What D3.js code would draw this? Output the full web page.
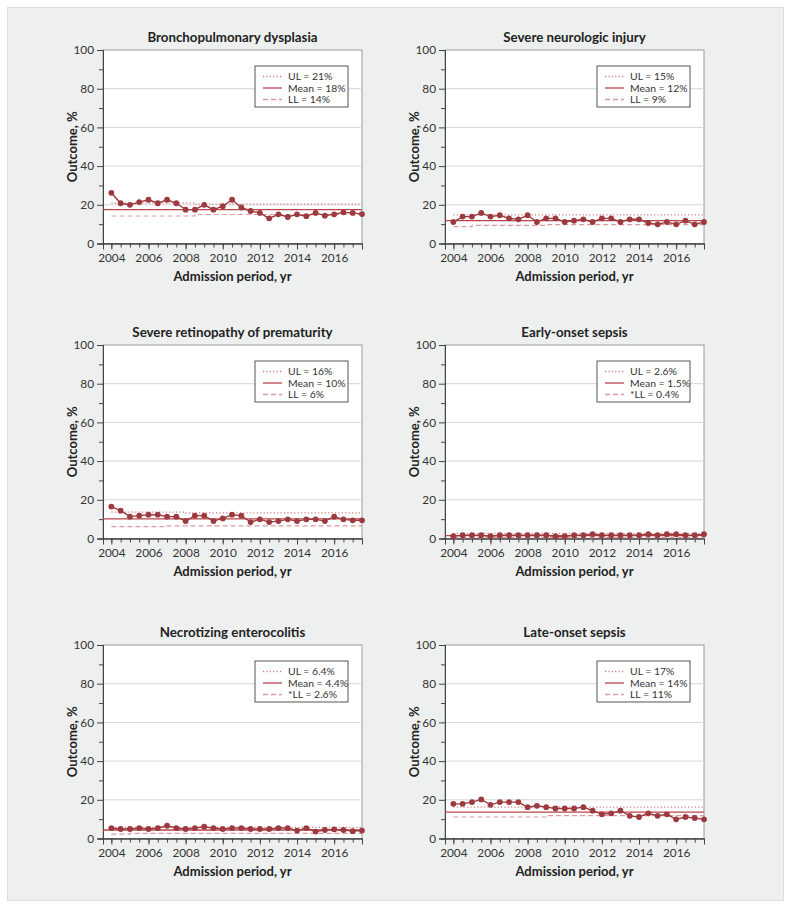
<!DOCTYPE html>
<html>
<head>
<meta charset="utf-8">
<script src="https://cdn.jsdelivr.net/npm/d3@7"></script>
<style>
  body { margin: 0; background: #fff; }
  svg { font-family: Lato, "Noto Sans", sans-serif; }
</style>
</head>
<body>
<svg id="chart" width="791" height="908"></svg>
<script>
// half-year admission periods
const periods = [2004, 2004.5, 2005, 2005.5, 2006, 2006.5, 2007, 2007.5, 2008, 2008.5,
  2009, 2009.5, 2010, 2010.5, 2011, 2011.5, 2012, 2012.5, 2013, 2013.5,
  2014, 2014.5, 2015, 2015.5, 2016, 2016.5, 2017, 2017.5];

const titles = ["Bronchopulmonary dysplasia", "Severe neurologic injury",
  "Severe retinopathy of prematurity", "Early-onset sepsis",
  "Necrotizing enterocolitis", "Late-onset sepsis"];

// outcome rates, %
const bpd = [26.2, 20.8, 20.0, 21.4, 22.6, 20.8, 22.6, 20.8, 17.5, 17.5, 20.0, 17.5, 19.3, 22.6,
  18.6, 16.8, 15.8, 13.0, 15.1, 13.7, 15.1, 14.1, 15.8, 14.4, 15.1, 16.1, 15.8, 15.2];
const sni = [11.1, 13.9, 13.9, 15.8, 13.9, 14.6, 13.0, 12.5, 14.6, 11.1, 13.0, 13.0, 11.1, 11.8,
  12.5, 11.1, 13.0, 13.0, 11.1, 12.5, 12.5, 10.6, 9.9, 11.1, 9.9, 11.8, 9.9, 11.1];
const rop = [16.5, 14.4, 11.3, 11.8, 12.3, 12.3, 11.3, 11.3, 9.0, 11.8, 11.8, 9.0, 10.4, 12.3,
  11.8, 8.5, 9.9, 8.5, 9.0, 9.9, 9.0, 9.9, 9.9, 9.0, 11.3, 9.9, 9.4, 9.4];
const eos = [1.2, 1.7, 1.7, 1.7, 1.2, 1.7, 1.7, 1.7, 1.7, 1.7, 1.7, 1.2, 1.2, 1.7,
  1.7, 2.2, 1.7, 1.7, 1.7, 1.7, 1.7, 2.2, 1.7, 2.2, 2.2, 1.7, 1.7, 2.2];
const nec = [5.4, 4.9, 4.9, 5.4, 4.9, 5.4, 6.6, 5.4, 4.9, 5.4, 6.1, 5.4, 4.9, 5.4,
  5.4, 4.9, 4.9, 4.9, 5.4, 5.4, 4.1, 5.4, 3.6, 4.4, 4.7, 4.4, 3.8, 4.1];
const los = [17.9, 17.9, 18.8, 20.2, 17.4, 18.8, 18.8, 18.8, 16.2, 16.9, 16.2, 15.5, 15.5, 15.5,
  16.2, 14.4, 12.5, 13.0, 14.4, 11.7, 11.1, 13.0, 11.7, 12.5, 9.9, 11.1, 10.6, 9.9];

// control limits as [period, value] steps, and the mean
const ulSteps = [[[2004, 20.9], [2008.5, 20.3], [2017.5, 20.3]],
  [[2004, 14.8], [2017.5, 14.8]],
  [[2004, 13.6], [2008, 13.2], [2017.5, 13.2]],
  [[2004, 2.6], [2017.5, 2.6]],
  [[2004, 5.8], [2017.5, 5.8]],
  [[2004, 16.2], [2017.5, 16.2]]];
const llSteps = [[[2004, 14.2], [2008.5, 15.0], [2017.5, 15.0]],
  [[2004, 8.7], [2005, 9.4], [2009, 9.8], [2017.5, 9.8]],
  [[2004, 6.1], [2007, 6.5], [2017.5, 6.5]],
  [[2004, 0.5], [2017.5, 0.5]],
  [[2004, 2.3], [2005, 2.7], [2017.5, 2.7]],
  [[2004, 11.1], [2009, 11.8], [2017.5, 11.8]]];
const means = [17.5, 11.8, 10.1, 1.5, 4.4, 13.6];

const legendUL = ["UL = 21%", "UL = 15%", "UL = 16%", "UL = 2.6%", "UL = 6.4%", "UL = 17%"];
const legendMean = ["Mean = 18%", "Mean = 12%", "Mean = 10%", "Mean = 1.5%", "Mean = 4.4%", "Mean = 14%"];
const legendLL = ["LL = 14%", "LL = 9%", "LL = 6%", "*LL = 0.4%", "*LL = 2.6%", "LL = 11%"];

const yTicks = [0, 20, 40, 60, 80, 100];
const yMinor = [10, 30, 50, 70, 90];
const xTicks = [2004, 2006, 2008, 2010, 2012, 2014, 2016];

const series = [bpd, sni, rop, eos, nec, los];

let colLeft = [103, 445];
let rowTop = [50, 345, 645];
let plotW = 259;
let plotH = 193.5;

let lineColor = "#9c3a3f";
let svg = d3.select("#chart");

// grey backdrop
svg.append("rect")
  .attr("x", 7.5).attr("y", 7.5)
  .attr("width", 776).attr("height", 893)
  .style("fill", "#eef0ef")
  .style("stroke", "#dcdedd");

series.forEach(function (vals, i) {
  let left = colLeft[i % 2];
  let top = rowTop[Math.floor(i / 2)];

  let x = d3.scaleLinear().domain([2003.55, 2017.5]).range([left, left + plotW]);
  let y = d3.scaleLinear().domain([0, 100]).range([top + plotH, top]);

  let g = svg.append("g");

  //plot area
  g.append("rect")
    .attr("x", left).attr("y", top)
    .attr("width", plotW).attr("height", plotH)
    .style("fill", "#fff")
    .style("stroke", "#9a9a9a");

  //gridlines
  g.selectAll(".grid")
    .data(yTicks.slice(1, 5))
    .enter().append("line")
    .attr("x1", left).attr("x2", left + plotW)
    .attr("y1", d => y(d)).attr("y2", d => y(d))
    .style("stroke", "#d6d6d6");

  //axes
  g.append("g")
    .attr("transform", "translate(" + left + ",0)")
    .call(d3.axisLeft(y).tickValues(yTicks).tickSize(6).tickPadding(3));
  g.append("g")
    .attr("transform", "translate(" + left + ",0)")
    .call(d3.axisLeft(y).tickValues(yMinor).tickSize(4).tickFormat(""));

  g.append("g")
    .attr("transform", "translate(0," + (top + plotH) + ")")
    .call(d3.axisBottom(x).tickValues(xTicks).tickFormat(d3.format("d")).tickSize(6).tickPadding(4));
  g.append("g")
    .attr("transform", "translate(0," + (top + plotH) + ")")
    .call(d3.axisBottom(x).tickValues(periods).tickSize(4).tickFormat("").tickSizeOuter(0));

  g.selectAll(".domain").style("stroke", "#444");
  g.selectAll(".tick line").style("stroke", "#444");
  g.selectAll(".tick text")
    .style("font-size", "11.8px")
    .style("fill", "#333")
    .style("font-family", "Lato, sans-serif");

  //limit lines
  let stepLine = d3.line()
    .x(d => x(d[0]))
    .y(d => y(d[1]))
    .curve(d3.curveStepAfter);

  g.append("path")
    .attr("d", stepLine(ulSteps[i]))
    .style("fill", "none")
    .style("stroke", "#d27c82")
    .style("stroke-width", 1.2)
    .style("stroke-dasharray", "1.2,2.2");

  g.append("path")
    .attr("d", stepLine(llSteps[i]))
    .style("fill", "none")
    .style("stroke", "#d99aa0")
    .style("stroke-width", 1.2)
    .style("stroke-dasharray", "5,3");

  g.append("line")
    .attr("x1", left).attr("x2", left + plotW)
    .attr("y1", y(means[i])).attr("y2", y(means[i]))
    .style("stroke", "#b8454c")
    .style("stroke-width", 1.3);

  //data line + points
  let dataLine = d3.line()
    .x((d, j) => x(periods[j]))
    .y(d => y(d));

  g.append("path")
    .attr("d", dataLine(vals))
    .style("fill", "none")
    .style("stroke", lineColor)
    .style("stroke-width", 1.4);

  g.selectAll(".pt")
    .data(vals)
    .enter().append("circle")
    .attr("cx", (d, j) => x(periods[j]))
    .attr("cy", d => y(d))
    .attr("r", 2.9)
    .style("fill", lineColor);

  //legend
  let lx = left + plotW - 14 - 93;
  let ly = top + 16;
  g.append("rect")
    .attr("x", lx).attr("y", ly)
    .attr("width", 93).attr("height", 41)
    .style("fill", "#fff")
    .style("stroke", "#555");

  let legItems = [
    { label: legendUL[i], stroke: "#d27c82", dash: "1.2,2.2" },
    { label: legendMean[i], stroke: "#b8454c", dash: null },
    { label: legendLL[i], stroke: "#d99aa0", dash: "5,3" }
  ];
  legItems.forEach(function (item, k) {
    let yy = ly + 10.5 + k * 11.5;
    g.append("line")
      .attr("x1", lx + 8).attr("x2", lx + 27)
      .attr("y1", yy).attr("y2", yy)
      .style("stroke", item.stroke)
      .style("stroke-width", 1.3)
      .style("stroke-dasharray", item.dash);
    g.append("text")
      .attr("x", lx + 33)
      .attr("y", yy)
      .attr("dy", "0.35em")
      .style("font-size", "10.4px")
      .style("fill", "#333")
      .text(item.label);
  });

  //title
  g.append("text")
    .attr("x", left + plotW / 2)
    .attr("y", top - 13)
    .attr("dy", "0.35em")
    .style("text-anchor", "middle")
    .style("font-size", "13.3px")
    .style("font-weight", "bold")
    .style("fill", "#222")
    .text(titles[i]);

  //x axis label
  g.append("text")
    .attr("x", left + plotW / 2)
    .attr("y", top + plotH + 33)
    .attr("dy", "0.35em")
    .style("text-anchor", "middle")
    .style("font-size", "13px")
    .style("font-weight", "bold")
    .style("fill", "#222")
    .text("Admission period, yr");

  //y axis label
  g.append("text")
    .attr("transform", "rotate(-90)")
    .attr("x", -(top + plotH / 2))
    .attr("y", left - 31)
    .attr("dy", "0.35em")
    .style("text-anchor", "middle")
    .style("font-size", "13px")
    .style("font-weight", "bold")
    .style("fill", "#222")
    .text("Outcome, %");
});
</script>
</body>
</html>
